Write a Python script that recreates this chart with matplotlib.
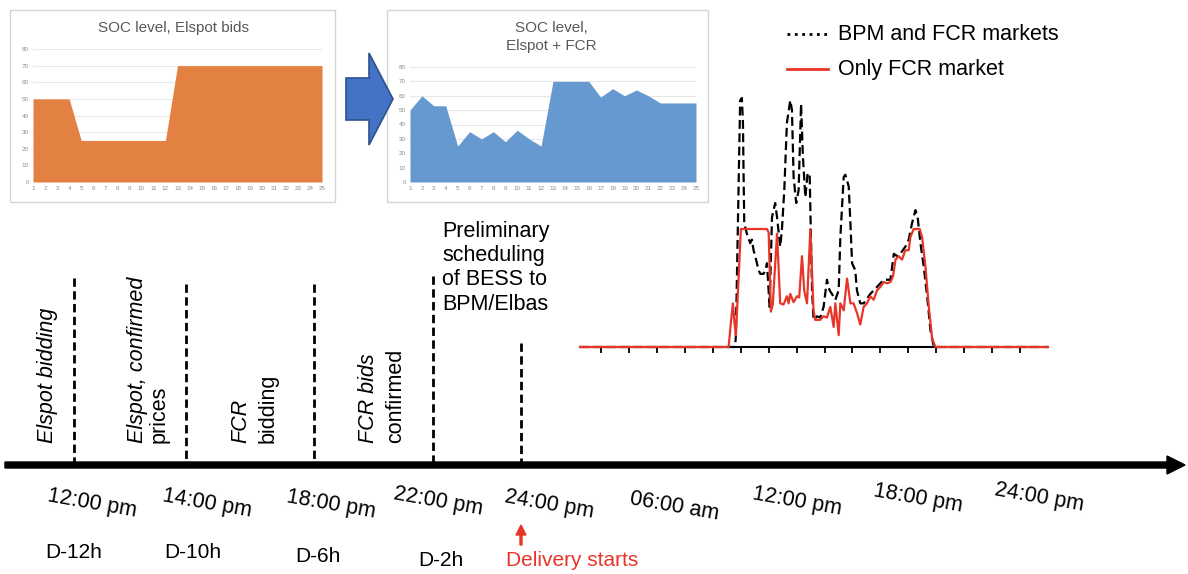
import matplotlib
import matplotlib.pyplot as plt
from matplotlib.patches import Rectangle, Polygon
import numpy as np

matplotlib.pyplot.switch_backend('Agg')
plt.rcParams['font.family'] = ['Liberation Sans', 'DejaVu Sans']

W, H = 1188, 574
RED = '#e8352a'

# SOC insets (hour 1..25, %)
soc_hours = list(range(1, 26))
soc_elspot = [50, 50, 50, 50, 25, 25, 25, 25, 25, 25, 25, 25, 70,
              70, 70, 70, 70, 70, 70, 70, 70, 70, 70, 70, 70]
soc_fcr = [50, 60, 53, 53, 25, 35, 30, 35, 28, 36, 30, 25, 70,
           70, 70, 70, 59, 65, 60, 64, 60, 55, 55, 55, 55]

# delivery day profile (hours, relative power)
fcr_h = [-1.13, 6.85, 7.0, 7.08, 7.17, 7.24, 7.51, 8.91, 9.0, 9.12, 9.22, 9.45, 9.62,
         9.80, 9.98, 10.07, 10.16, 10.34, 10.52, 10.64, 10.79, 10.91, 11.06, 11.24,
         11.41, 11.50, 11.77, 11.95, 12.13, 12.31, 12.49, 12.58, 12.76, 12.85, 13.03,
         13.21, 13.39, 13.56, 13.74, 13.92, 14.10, 14.28, 14.46, 14.64, 14.82, 15.0,
         15.18, 15.36, 15.54, 15.68, 15.81, 15.98, 16.16, 16.34, 16.52, 16.61, 16.79,
         17.11, 17.24, 17.42, 17.6, 17.78, 17.96, 24.0]
fcr_v = [0, 0, 0.25, 0.37, 0.2, 0.1, 1.0, 1.0, 0.97, 0.30, 0.36, 0.96, 0.37,
         0.36, 0.43, 0.37, 0.45, 0.38, 0.43, 0.42, 0.77, 0.48, 0.37, 1.0,
         0.31, 0.23, 0.23, 0.26, 0.25, 0.34, 0.17, 0.37, 0.10, 0.37, 0.31,
         0.58, 0.37, 0.37, 0.29, 0.19, 0.34, 0.37, 0.43, 0.40, 0.48, 0.51,
         0.55, 0.54, 0.55, 0.60, 0.74, 0.77, 0.74, 0.82, 0.82, 0.93, 1.0,
         1.0, 0.93, 0.68, 0.34, 0.07, 0, 0]

bpm_h = [-1.13, 7.2, 7.24, 7.47, 7.56, 7.62, 7.65, 7.69, 7.83, 8.01, 8.10, 8.19, 8.28, 8.37,
         8.46, 8.55, 8.73, 8.82, 8.91, 9.05, 9.18, 9.35, 9.45, 9.62, 9.71, 9.84, 9.98,
         10.16, 10.25, 10.34, 10.48, 10.61, 10.74, 10.84, 10.97, 11.09, 11.2, 11.33,
         11.41, 11.59, 11.77, 11.95, 12.13, 12.27, 12.40, 12.58, 12.76, 12.85, 13.03,
         13.12, 13.3, 13.39, 13.48, 13.65, 13.74, 13.92, 14.10, 14.46, 14.82, 15.18,
         15.54, 15.72, 15.90, 16.07, 16.34, 16.52, 16.70, 16.88, 17.0, 17.15, 17.33,
         17.51, 17.69, 17.87, 24.0]
bpm_v = [0, 0, 0.1, 2.09, 2.11, 1.9, 1.5, 1.05, 0.96, 0.88, 0.91, 0.82, 0.77, 0.71,
         0.65, 0.62, 0.62, 0.65, 0.71, 0.34, 1.10, 1.22, 1.10, 0.85, 0.99, 1.33, 1.90,
         2.09, 2.01, 1.44, 1.22, 1.33, 2.06, 1.61, 1.27, 1.47, 1.47, 0.48,
         0.23, 0.26, 0.25, 0.34, 0.57, 0.48, 0.45, 0.40, 0.48, 0.93, 1.44,
         1.46, 1.36, 1.05, 0.71, 0.65, 0.48, 0.37, 0.37, 0.45, 0.51, 0.57,
         0.57, 0.79, 0.77, 0.79, 0.85, 0.91, 1.05, 1.16, 1.10, 0.88, 0.68,
         0.43, 0.14, 0, 0]

# timeline
event_x = [74, 186, 314, 433, 521]
event_top = [278, 284, 284, 276, 343]
time_labels = ['12:00 pm', '14:00 pm', '18:00 pm', '22:00 pm', '24:00 pm',
               '06:00 am', '12:00 pm', '18:00 pm', '24:00 pm']
time_x = [92, 207, 331, 438, 549, 674, 797, 918, 1039]
time_y = [503, 503, 504, 501, 504, 506, 501, 498, 497]
d_labels = ['D-12h', 'D-10h', 'D-6h', 'D-2h']
d_x = [74, 193, 318, 441]
d_y = [553, 553, 556, 560]


def px_rect(x0, y0, x1, y1):
    return [x0 / W, 1 - y1 / H, (x1 - x0) / W, (y1 - y0) / H]


fig = plt.figure(figsize=(W / 100, H / 100), dpi=100)
ax = fig.add_axes([0, 0, 1, 1])
ax.set_xlim(0, W)
ax.set_ylim(H, 0)
ax.axis('off')

# inset frames
ax.add_patch(Rectangle((10, 10), 325, 192, fill=False, ec='#d4d4d4', lw=1))
ax.add_patch(Rectangle((387, 10), 321, 192, fill=False, ec='#d4d4d4', lw=1))
ax.text(173, 28, 'SOC level, Elspot bids', ha='center', va='center', fontsize=11, color='#595959')
ax.text(551, 37, 'SOC level,\nElspot + FCR', ha='center', va='center', fontsize=11,
        color='#595959', linespacing=1.3)

# blue block arrow
ax.add_patch(Polygon([(346, 78), (369, 78), (369, 53), (393, 99), (369, 145), (369, 120), (346, 120)],
                     closed=True, fc='#4472c4', ec='#2f528f', lw=1.2, zorder=5))


def soc_inset(rect, values, color):
    a = fig.add_axes(rect)
    a.fill_between(soc_hours, values, color=color, lw=0, zorder=2)
    a.set_xlim(1, 25)
    a.set_ylim(0, 80)
    a.set_xticks(soc_hours)
    a.set_yticks(range(0, 81, 10))
    a.grid(axis='y', color='#e8e8e8', lw=0.8, zorder=0)
    for s in a.spines.values():
        s.set_visible(False)
    a.tick_params(length=0, labelsize=4.5, labelcolor='#8c8c8c', pad=3)
    return a


soc_inset(px_rect(33, 49, 322, 182), soc_elspot, '#e28142')
soc_inset(px_rect(410, 67, 696, 182), soc_fcr, '#6699cf')

# legend
ax.plot([787, 828], [34, 34], color='black', ls=':', lw=2)
ax.plot([787, 828], [69, 69], color=RED, lw=2)
ax.text(838, 34, 'BPM and FCR markets', va='center', fontsize=15.5)
ax.text(838, 69, 'Only FCR market', va='center', fontsize=15.5)

# delivery day chart
lc = fig.add_axes(px_rect(580, 90, 1048, 347))
lc.plot(bpm_h, bpm_v, color='black', lw=1.6, dashes=(4, 2), clip_on=False, zorder=3)
lc.plot(fcr_h, fcr_v, color=RED, lw=1.6, clip_on=False, zorder=4)
lc.set_xlim(-1.13, 24.0)
lc.set_ylim(0, 2.178)
for k in ['top', 'right', 'left']:
    lc.spines[k].set_visible(False)
lc.spines['bottom'].set_linewidth(1.5)
lc.set_xticks(np.arange(0, 23, 1.5))
lc.set_yticks([])
lc.tick_params(axis='x', direction='out', length=4, width=1.3, labelbottom=False)
lc.patch.set_alpha(0)

# timeline axis
ax.arrow(5, 465, 1180, 0, width=6, head_width=18, head_length=18,
         length_includes_head=True, color='black')
for x, top in zip(event_x, event_top):
    ax.plot([x, x], [top, 465], color='black', lw=2, dashes=(3, 1.6))

# event labels
ax.text(48, 443, 'Elspot bidding', rotation=90, ha='left', va='center',
        rotation_mode='anchor', fontsize=15.5, fontstyle='italic')
ax.text(138, 443, 'Elspot, confirmed', rotation=90, ha='left', va='center',
        rotation_mode='anchor', fontsize=15.5, fontstyle='italic')
ax.text(159, 443, 'prices', rotation=90, ha='left', va='center',
        rotation_mode='anchor', fontsize=15.5)
ax.text(241, 443, 'FCR', rotation=90, ha='left', va='center',
        rotation_mode='anchor', fontsize=15.5, fontstyle='italic')
ax.text(268, 443, 'bidding', rotation=90, ha='left', va='center',
        rotation_mode='anchor', fontsize=15.5)
ax.text(369, 443, 'FCR bids', rotation=90, ha='left', va='center',
        rotation_mode='anchor', fontsize=15.5, fontstyle='italic')
ax.text(396, 443, 'confirmed', rotation=90, ha='left', va='center',
        rotation_mode='anchor', fontsize=15.5)
ax.text(442, 221, 'Preliminary\nscheduling\nof BESS to\nBPM/Elbas', ha='left', va='top',
        fontsize=15.5, linespacing=1.2)

for lab, x, y in zip(time_labels, time_x, time_y):
    ax.text(x, y, lab, rotation=-10, ha='center', va='center', fontsize=15.5,
            rotation_mode='anchor')
for lab, x, y in zip(d_labels, d_x, d_y):
    ax.text(x, y, lab, ha='center', va='center', fontsize=15)

ax.arrow(521, 545, 0, -20, width=2, head_width=10, head_length=10,
         length_includes_head=True, color=RED)
ax.text(572, 561, 'Delivery starts', ha='center', va='center', fontsize=15, color=RED)

fig.savefig('out.png', dpi=100)
plt.close()
